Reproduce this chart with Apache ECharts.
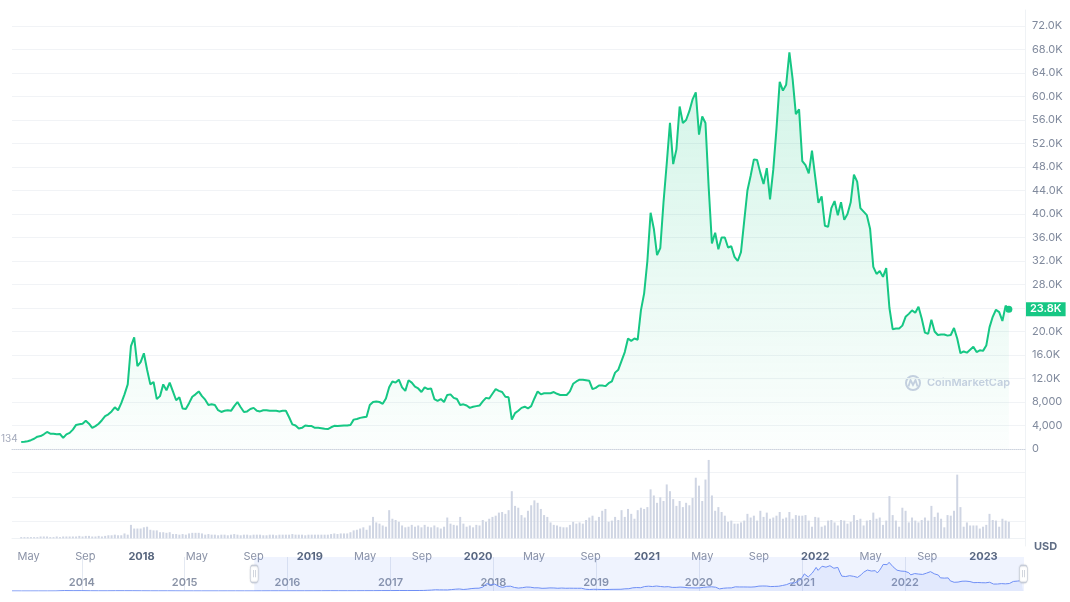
<!DOCTYPE html>
<html><head><meta charset="utf-8">
<script src="https://cdn.jsdelivr.net/npm/echarts@6/dist/echarts.min.js"></script>
<style>html,body{margin:0;padding:0;background:#fff}#c{width:1070px;height:602px}</style>
</head><body><div id="c"></div>
<script>
// ---------- DATA ----------
const priceStart = '2017-04-15';           // first weekly point
const prices = [
// 2017
1200,1230,1320,1500,1750,2100,2200,2500,2900,2600,
2600,2500,2550,1900,2500,2750,3300,4100,4200,4300,
4800,4300,3600,3900,4300,4900,5600,5900,6400,7100,
6600,7800,9300,11000,17500,19000,14100,14800,
// 2018
16300,13500,11000,11400,8500,9000,11000,10000,11300,9800,
8300,8800,6900,6800,7800,8900,9300,9800,9000,8400,
7500,7600,7500,6600,6300,6500,6600,6500,7300,8000,
7100,6300,6400,6800,7000,6500,6400,6600,6600,6500,
6500,6500,6400,6500,6500,5400,4200,4000,3500,3600,
4000,3900,
// 2019
3900,3600,3600,3550,3450,3400,3700,3950,3900,3950,
4000,4000,4100,5000,5100,5300,5400,5500,7500,8000,
8100,8000,7700,8600,10500,11500,11300,11800,10500,9900,
11700,11300,10600,10300,9700,10500,10200,10300,8500,8200,
8500,8000,9200,9300,8700,8500,7500,7600,7400,7000,
7200,7300,
// 2020
7400,8100,8700,8600,9400,10200,9900,9700,8900,8800,
5000,6100,6500,7000,7200,6900,7300,8600,9800,9300,
9500,9500,9500,9700,9400,9200,9200,9200,9800,11100,
11500,11800,11800,11700,11600,10200,10400,10800,10800,10700,
11200,11500,13000,13500,15000,16500,18800,18400,18800,18600,
23600,26500,
// 2021
32000,40200,37500,33000,34200,42000,48600,55500,48500,51000,
58300,55500,56000,57500,59500,60700,53500,56600,55500,44500,
35000,36800,34000,36000,36000,34300,34500,32700,32000,33500,
38800,44000,46500,49300,49200,47000,45100,47800,42500,47500,
54500,62500,61000,62000,67500,63000,57000,57800,49000,48300,
46900,50800,
// 2022
46300,41900,43000,38000,37800,41000,42200,39800,42000,39000,
40000,42000,46700,45500,41000,40400,39800,37500,31000,29800,
30300,29300,30800,24000,20400,20500,20500,21000,22500,23000,
23600,23200,24200,22200,19800,19600,22000,20000,19400,19500,
19500,19300,19400,20600,18800,16300,16600,16400,16900,17400,
16500,16800,16700,
// 2023
17600,20700,22500,23700,23300,21800,24400,23800
];
// weekly volume, billions USD
const volumes = [
// 2017
2,2,2,2,2,2,3,3,3,2,2,3,2,3,3,3,3,3,4,3,4,4,3,
3,4,3,4,5,5,6,5,5,
8,6,22,16,16,16,
// 2018
18,19,14,13,13,10,10,9,10,
7,7,6,7,6,
8,9,9,9,8,
6,7,6,6,5,6,6,5,6,7,6,5,6,6,5,6,6,6,5,5,6,6,5,
6,6,6,6,7,6,6,6,5,6,
// 2019
6,6,6,6,6,6,7,8,7,8,8,8,10,
13,14,16,18,14,21,35,
26,24,21,19,46,32,30,27,21,18,
19,22,19,21,18,22,19,18,21,18,
16,19,34,24,22,21,35,24,19,21,18,22,
// 2020
21,30,27,32,35,37,42,43,40,46,
77,53,50,38,34,45,54,62,58,48,
38,35,26,22,21,19,18,18,22,27,
24,26,24,30,34,37,29,35,45,48,
27,29,35,30,46,35,48,40,32,46,50,48,
// 2021
51,80,70,58,67,61,88,77,64,53,
61,51,58,54,66,99,86,61,96,128,
70,45,51,43,37,27,29,24,24,26,
29,40,34,37,29,45,35,42,32,34,
37,43,32,34,43,32,38,37,37,38,29,19,
// 2022
35,34,19,21,29,30,26,21,30,29,
24,27,38,30,32,21,29,30,42,32,
34,22,29,69,38,29,19,50,45,26,
34,29,26,30,34,29,53,35,42,32,
18,38,37,45,104,51,19,26,21,21,21,16,19,
// 2023
22,40,30,29,19,32,29,27
];
// navigator history before the weekly series: 2013-04-28, then monthly from May 2013
const historyStart = '2013-04-28';
const historyPrices = [134,
120,100,95,120,130,200,1000,750,
850,550,460,450,630,640,590,480,390,340,380,320,
220,255,245,235,230,265,285,230,235,315,375,430,
370,435,415,450,530,670,625,575,610,700,740,960,
970,1190,1080];
const xTickDates = ['2017-05-01','2017-09-01','2018-01-01','2018-05-01','2018-09-01','2019-01-01',
  '2019-05-01','2019-09-01','2020-01-01','2020-05-01','2020-09-01','2021-01-01','2021-05-01',
  '2021-09-01','2022-01-01','2022-05-01','2022-09-01','2023-01-01'];
const navTickDates = ['2014-01-01','2015-01-01','2016-01-01','2017-01-01','2018-01-01',
  '2019-01-01','2020-01-01','2021-01-01','2022-01-01'];
const startLabel = '134';
const mainRange = ['2017-03-26', '2023-04-01'];
const navRange = ['2013-04-28', '2023-02-28'];
const navSelectStart = '2015-09-05';

// ---------- BUILD ----------
const ts = s => Date.parse(s);
const DAY = 86400000;
const t0 = ts(priceStart);
const priceData = [], volData = [];
for (let i = 0; i < prices.length; i++) priceData.push([t0 + i * 7 * DAY, prices[i]]);
for (let i = 0; i < volumes.length; i++) volData.push([t0 + i * 7 * DAY, volumes[i]]);
const h0 = ts(historyStart);
const navData = historyPrices.map((v, i) => {
  const d = i === 0 ? h0 : Date.UTC(2013, 3 + i, 1);
  return [d, v];
}).concat(priceData);
const last = priceData[priceData.length - 1];
const first = priceData[0];
const MONTHS = ['Jan','Feb','Mar','Apr','May','Jun','Jul','Aug','Sep','Oct','Nov','Dec'];
const fmtPrice = v => v >= 10000 ? (v / 1000).toFixed(1) + 'K' : v.toLocaleString('en-US');
const GREEN = '#16c784';
const FONT = 'Inter, "Noto Sans", sans-serif';

const chart = echarts.init(document.getElementById('c'), null, { renderer: 'canvas' });
chart.setOption({
  animation: false,
  textStyle: { fontFamily: FONT },
  grid: [
    { left: 12, right: 45, top: 10, height: 439 },
    { left: 12, right: 45, top: 448, height: 98 },
    { left: 12, right: 46, top: 557, height: 34 }
  ],
  xAxis: [
    { type: 'value', gridIndex: 0, min: ts(mainRange[0]), max: ts(mainRange[1]),
      axisLine: { show: true, onZero: true, lineStyle: { color: '#cdd3de', type: 'dotted', width: 1 } },
      axisTick: { show: false }, axisLabel: { show: false }, splitLine: { show: false } },
    { type: 'value', gridIndex: 1, min: ts(mainRange[0]), max: ts(mainRange[1]),
      axisLine: { show: true, onZero: true, lineStyle: { color: '#eff2f5' } },
      axisTick: { show: false }, splitLine: { show: false },
      axisLabel: {
        customValues: xTickDates.map(ts), margin: 5,
        formatter: v => { const d = new Date(v); const m = d.getUTCMonth();
          return m === 0 ? '{y|' + d.getUTCFullYear() + '}' : '{m|' + MONTHS[m] + '}'; },
        rich: { y: { fontWeight: 'bold', color: '#58667e', fontSize: 11, fontFamily: FONT },
                m: { color: '#8a92a6', fontSize: 11, fontFamily: FONT } }
      } },
    { type: 'value', gridIndex: 2, min: ts(navRange[0]), max: ts(navRange[1]),
      axisLine: { show: false },
      axisTick: { show: false, customValues: navTickDates.map(ts) },
      splitLine: { show: true, lineStyle: { color: '#e4e9f2' } },
      axisLabel: { inside: true, customValues: navTickDates.map(ts), margin: 3,
        formatter: v => String(new Date(v).getUTCFullYear()),
        color: '#8a93a6', fontSize: 11, fontWeight: 600 } }
  ],
  yAxis: [
    { type: 'value', gridIndex: 0, position: 'right', min: 0, max: 74723, interval: 4000,
      axisLine: { show: true, lineStyle: { color: '#eff2f5' } }, axisTick: { show: false },
      splitLine: { show: true, showMinLine: false, showMaxLine: false, lineStyle: { color: '#f1f3f6' } },
      axisLabel: { showMaxLabel: false, color: '#808a9d', fontSize: 11, margin: 7, formatter: fmtPrice } },
    { type: 'value', gridIndex: 1, position: 'right', min: -12.5, max: 147.5, interval: 40,
      axisLine: { show: true, lineStyle: { color: '#eff2f5' } }, axisTick: { show: false },
      splitLine: { show: true, showMinLine: false, showMaxLine: false, lineStyle: { color: '#f1f3f6' } },
      axisLabel: { show: false } },
    { type: 'value', gridIndex: 2, min: 0, max: 80000, show: false }
  ],
  series: [
    { type: 'bar', name: 'Volume', xAxisIndex: 1, yAxisIndex: 1, data: volData, barWidth: 2,
      itemStyle: { color: '#cfd5e3' }, silent: true },
    { type: 'line', name: 'Price', xAxisIndex: 0, yAxisIndex: 0, data: priceData, showSymbol: false,
      lineStyle: { color: GREEN, width: 2 }, z: 3,
      areaStyle: { color: new echarts.graphic.LinearGradient(0, 0, 0, 1, [
        { offset: 0, color: 'rgba(22,199,132,0.28)' }, { offset: 1, color: 'rgba(22,199,132,0.02)' }]) },
      markPoint: { silent: true, animation: false, data: [
        { coord: last, symbol: 'circle', symbolSize: 7, itemStyle: { color: GREEN }, label: { show: false } },
        { coord: first, symbol: 'circle', symbolSize: 1, itemStyle: { color: 'rgba(0,0,0,0)' },
          label: { show: true, position: 'left', distance: 3, offset: [0, -3], formatter: startLabel,
                   color: '#a3a9bb', fontSize: 10 } }
      ] },
      markLine: { silent: true, symbol: 'none', animation: false,
        lineStyle: { color: 'rgba(0,0,0,0)', width: 0 },
        data: [{ yAxis: last[1] }],
        label: { position: 'end', distance: 1, formatter: fmtPrice(last[1]), color: '#fff',
          backgroundColor: GREEN, padding: [2, 4, 1, 4], fontSize: 11, fontWeight: 600 } } },
    { type: 'line', name: 'Navigator', xAxisIndex: 2, yAxisIndex: 2, data: navData, showSymbol: false,
      silent: true, lineStyle: { color: '#6f8ff5', width: 1 },
      areaStyle: { color: 'rgba(111,143,245,0.14)' },
      markArea: { silent: true, itemStyle: { color: 'rgba(111,143,245,0.11)' },
        data: [[{ xAxis: ts(navSelectStart) }, { xAxis: ts(navRange[1]) }]] },
      markPoint: { silent: true, symbol: 'roundRect', symbolSize: [8, 17],
        itemStyle: { color: '#fff', borderColor: '#c6ccd8', borderWidth: 1,
                     shadowBlur: 2, shadowColor: 'rgba(0,0,0,0.12)' },
        label: { show: true, position: 'inside', formatter: '||', fontSize: 6, color: '#a3abbb' },
        data: [{ coord: [ts(navSelectStart), 40000] }, { coord: [ts(navRange[1]) - 2 * DAY, 40000] }] } }
  ],
  graphic: [
    { type: 'circle', silent: true, shape: { cx: 913, cy: 383, r: 7 },
      style: { fill: 'none', stroke: '#cbd0e3', lineWidth: 2 } },
    { type: 'polyline', silent: true, shape: { points: [[908.5, 386.5], [910.5, 380], [913, 385], [915.5, 380], [917.5, 386.5]] },
      style: { fill: 'none', stroke: '#cbd0e3', lineWidth: 1.8 } },
    { type: 'text', silent: true, left: 927, top: 377,
      style: { text: 'CoinMarketCap', fill: '#cbd0e3', font: '600 11px Inter, sans-serif' } },
    { type: 'text', silent: true, left: 1034, top: 541,
      style: { text: 'USD', fill: '#616e85', font: 'bold 11px Inter, sans-serif' } }
  ]
});
</script></body></html>
